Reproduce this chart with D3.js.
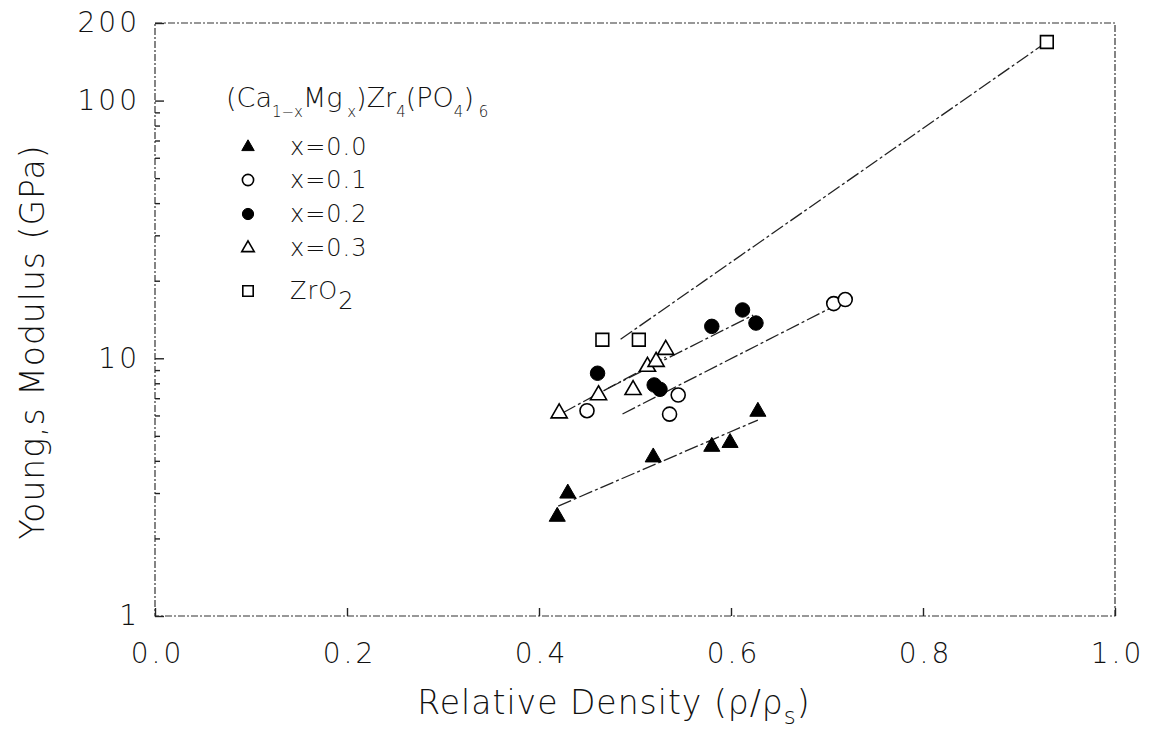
<!DOCTYPE html>
<html>
<head>
    <meta charset="utf-8">
    <title>Young's Modulus vs Relative Density</title>
    <script src="https://d3js.org/d3.v7.min.js"></script>
    <style>
        body { margin: 0; padding: 0; background: #fff; }
        text { font-family: "DejaVu Sans", sans-serif; font-weight: 200; fill: #111; }
        .frame { fill: none; stroke: #333; stroke-width: 1.2; stroke-dasharray: 7,2,2,2; }
        .axis .domain { stroke: none; }
        .axis line { stroke: #222; stroke-width: 1.4; }
        .fit { fill: none; stroke: #222; stroke-width: 1.3; stroke-dasharray: 14,3,3,3; }
    </style>
</head>
<body>
<svg id="svg" width="1151" height="738"></svg>
<script>
    // Relative density / Young's modulus (GPa)
    const x00 = [0.419, 0.430, 0.519, 0.580, 0.599, 0.628];
    const y00 = [2.43, 2.99, 4.13, 4.54, 4.70, 6.21];
    const x01 = [0.450, 0.536, 0.545, 0.707, 0.719];
    const y01 = [6.26, 6.07, 7.20, 16.3, 16.9];
    const x02 = [0.461, 0.520, 0.526, 0.580, 0.612, 0.626];
    const y02 = [8.75, 7.88, 7.58, 13.3, 15.4, 13.7];
    const x03 = [0.421, 0.462, 0.498, 0.513, 0.522, 0.532];
    const y03 = [6.12, 7.20, 7.54, 9.28, 9.70, 10.8];
    const xZr = [0.466, 0.504, 0.929];
    const yZr = [11.8, 11.8, 168.8];

    // fitted lines: [x start, x end], [y start, y end]
    const fit00 = { x: [0.420, 0.628], y: [2.67, 5.76] };
    const fit01 = { x: [0.487, 0.707], y: [6.08, 15.9] };
    const fit02 = { x: [0.472, 0.623], y: [7.65, 14.7] };
    const fit03 = { x: [0.425, 0.532], y: [6.15, 10.1] };
    const fitZr = { x: [0.485, 0.929], y: [11.85, 168.8] };

    const xTicks = [0.0, 0.2, 0.4, 0.6, 0.8, 1.0];
    const yTicks = [1, 10, 100, 200];
    const yMinor = [2, 3, 4, 5, 6, 7, 8, 9, 20, 30, 40, 50, 60, 70, 80, 90];
    const legendLabels = ["x=0.0", "x=0.1", "x=0.2", "x=0.3", "ZrO"];

    const svg = d3.select("svg");
    const margin = { top: 23, right: 36, bottom: 122, left: 155 };
    const width = +svg.attr("width") - margin.left - margin.right;
    const height = +svg.attr("height") - margin.top - margin.bottom;

    const x = d3.scaleLinear().domain([0, 1]).range([0, width]);
    const y = d3.scaleLog().domain([1, 200]).range([height, 0]);

    const g = svg.append("g").attr("transform", `translate(${margin.left},${margin.top})`);

    // frame
    g.append("rect").attr("class", "frame")
        .attr("x", 0).attr("y", 0).attr("width", width).attr("height", height);

    // x axis, ticks pointing inward
    g.append("g").attr("class", "axis")
        .attr("transform", `translate(0,${height})`)
        .call(d3.axisBottom(x).tickValues(xTicks).tickSize(-8).tickPadding(27).tickFormat(d3.format(".1f")))
        .selectAll("text")
            .attr("dx", 2)
            .style("font-size", "28px").style("letter-spacing", "3px")
            .style("font-family", "DejaVu Sans").style("font-weight", 200);

    // y axis majors
    g.append("g").attr("class", "axis")
        .call(d3.axisLeft(y).tickValues(yTicks).tickSize(-9).tickPadding(15).tickFormat(d3.format("d")))
        .selectAll("text")
            .style("font-size", "28px").style("letter-spacing", "3px")
            .style("font-family", "DejaVu Sans").style("font-weight", 200);

    // y axis minors
    g.append("g").attr("class", "axis")
        .call(d3.axisLeft(y).tickValues(yMinor).tickSize(-5).tickFormat(""));

    // fit lines
    const line = d3.line().x(d => x(d[0])).y(d => y(d[1]));
    [fit00, fit01, fit02, fit03, fitZr].forEach(f => {
        g.append("path").attr("class", "fit").attr("d", line(d3.zip(f.x, f.y)));
    });

    // markers
    function styleMarker(sel, kind, size) {
        if (kind === "triFill" || kind === "triOpen") {
            sel.attr("d", d3.symbol().type(d3.symbolTriangle).size(size * 0.75)());
        } else if (kind === "square") {
            sel.attr("d", d3.symbol().type(d3.symbolSquare).size(size * 0.9)());
        } else {
            sel.attr("d", d3.symbol().type(d3.symbolCircle).size(size * 1.1)());
        }
        const filled = kind === "triFill" || kind === "circFill";
        sel.attr("fill", filled ? "#000" : "#fff")
            .attr("stroke", "#000")
            .attr("stroke-width", filled ? 1 : 1.6);
    }
    function drawSeries(xs, ys, kind, size) {
        const sel = g.append("g").selectAll("path").data(d3.zip(xs, ys)).join("path")
            .attr("transform", d => `translate(${x(d[0])},${y(d[1])})`);
        styleMarker(sel, kind, size);
    }
    drawSeries(x00, y00, "triFill", 150);
    drawSeries(x01, y01, "circOpen", 140);
    drawSeries(x02, y02, "circFill", 150);
    drawSeries(x03, y03, "triOpen", 150);
    drawSeries(xZr, yZr, "square", 180);

    // legend
    const title = svg.append("text").attr("x", 226).attr("y", 107).style("font-size", "27px");
    title.append("tspan").text("(Ca");
    title.append("tspan").attr("dy", 10).style("font-size", "15px").text("1\u2212x");
    title.append("tspan").attr("dy", -10).text("Mg");
    title.append("tspan").attr("dy", 10).style("font-size", "15px").text(" x");
    title.append("tspan").attr("dy", -10).text(")Zr");
    title.append("tspan").attr("dy", 10).style("font-size", "15px").text("4");
    title.append("tspan").attr("dy", -10).text("(PO");
    title.append("tspan").attr("dy", 10).style("font-size", "15px").text("4");
    title.append("tspan").attr("dy", -10).text(")");
    title.append("tspan").attr("dy", 10).style("font-size", "15px").text(" 6");

    const legendKinds = ["triFill", "circOpen", "circFill", "triOpen", "square"];
    const legendY = [147, 180, 214, 248, 291];
    legendKinds.forEach((k, i) => {
        const m = svg.append("path").attr("transform", `translate(248,${legendY[i]})`);
        styleMarker(m, k, k === "square" ? 120 : 90);
        const t = svg.append("text").attr("x", 290).attr("y", legendY[i] + 8)
            .style("font-size", "24px").style("letter-spacing", "1px").text(legendLabels[i]);
        if (i === 4) t.append("tspan").attr("dy", 10).text("2");
    });

    // axis titles
    svg.append("text")
        .attr("transform", "translate(44,342) rotate(-90)")
        .attr("text-anchor", "middle").style("font-size", "33px").style("letter-spacing", "1px")
        .text("Young,s Modulus (GPa)");

    const xt = svg.append("text")
        .attr("x", 614).attr("y", 714)
        .attr("text-anchor", "middle").style("font-size", "33px").style("letter-spacing", "1px");
    xt.append("tspan").text("Relative Density (\u03C1/\u03C1");
    xt.append("tspan").attr("dy", 10).style("font-size", "23px").text("s");
    xt.append("tspan").attr("dy", -10).text(")");
</script>
</body>
</html>
